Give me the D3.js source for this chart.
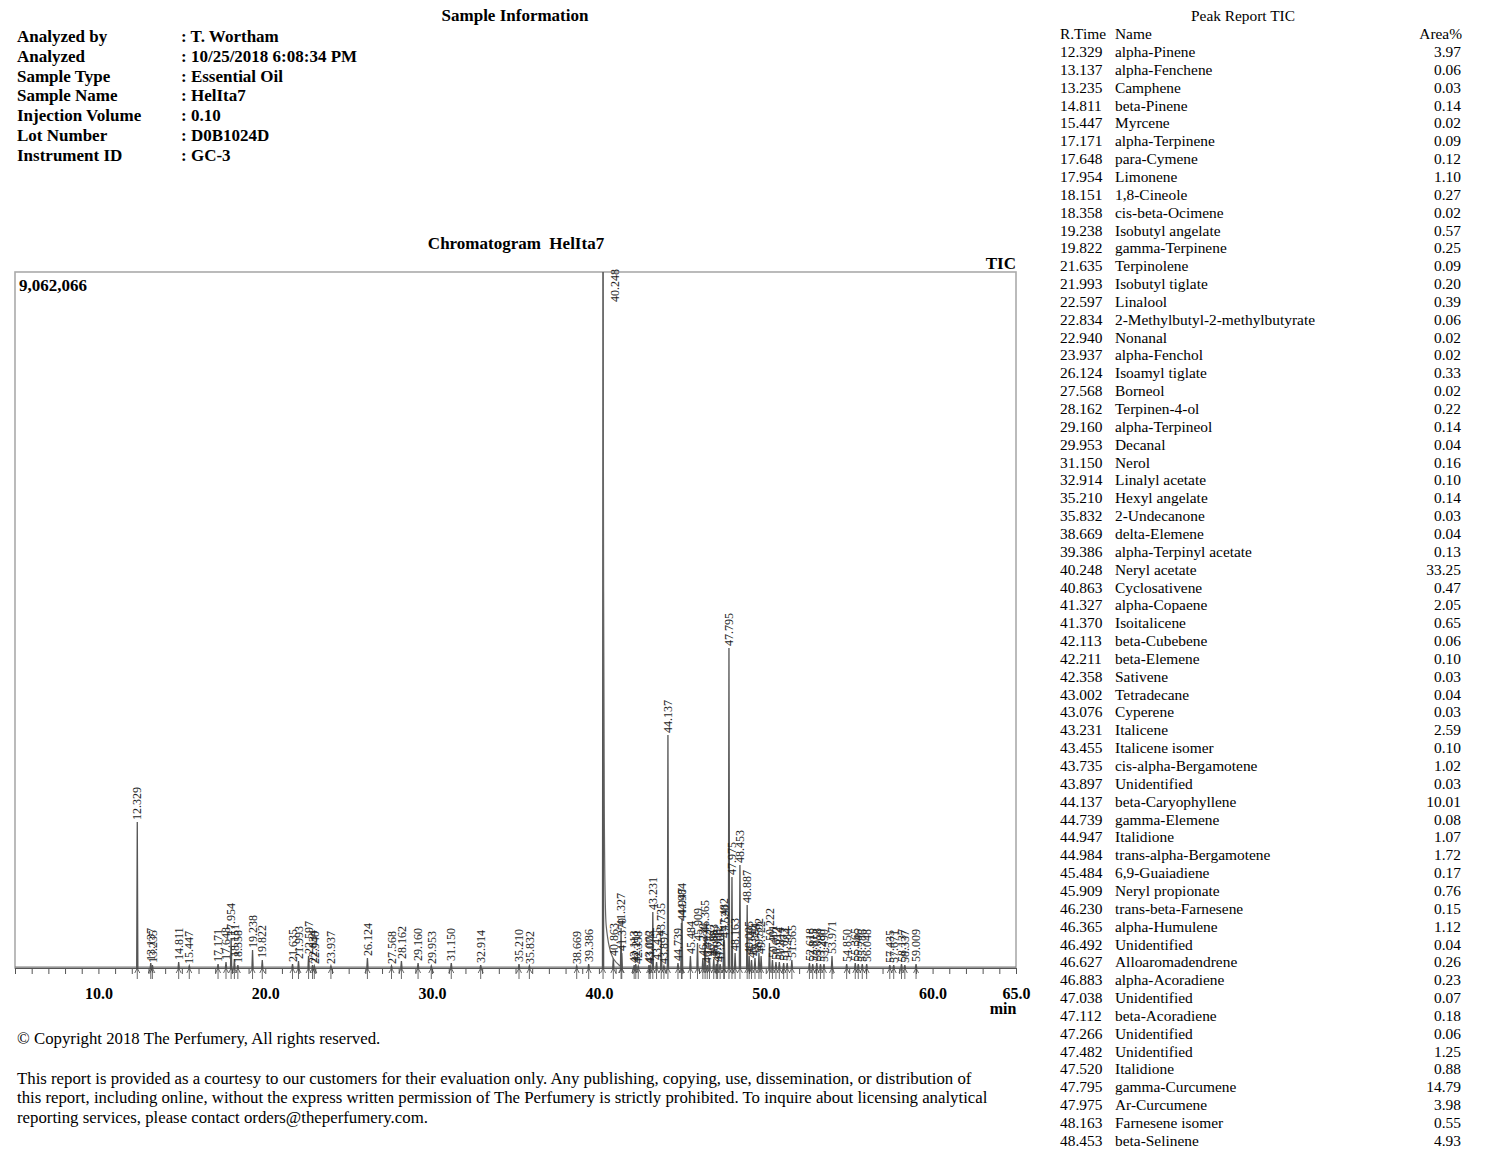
<!DOCTYPE html>
<html><head><meta charset="utf-8">
<script src="https://cdn.jsdelivr.net/npm/d3@7"></script>
<style>
body{margin:0;background:#fff;}
svg{display:block;font-family:"Liberation Serif","Times New Roman",serif;}
</style></head>
<body>
<svg id="c" width="1500" height="1163"></svg>
<script>
// ---------- data ----------
const infoLabels = ["Analyzed by","Analyzed","Sample Type","Sample Name","Injection Volume","Lot Number","Instrument ID"];
const infoValues = [": T. Wortham",": 10/25/2018 6:08:34 PM",": Essential Oil",": HelIta7",": 0.10",": D0B1024D",": GC-3"];

const tableTimes = ["12.329","13.137","13.235","14.811","15.447","17.171","17.648","17.954","18.151","18.358","19.238","19.822","21.635","21.993","22.597","22.834","22.940","23.937","26.124","27.568","28.162","29.160","29.953","31.150","32.914","35.210","35.832","38.669","39.386","40.248","40.863","41.327","41.370","42.113","42.211","42.358","43.002","43.076","43.231","43.455","43.735","43.897","44.137","44.739","44.947","44.984","45.484","45.909","46.230","46.365","46.492","46.627","46.883","47.038","47.112","47.266","47.482","47.520","47.795","47.975","48.163","48.453"];
const tableNames = ["alpha-Pinene","alpha-Fenchene","Camphene","beta-Pinene","Myrcene","alpha-Terpinene","para-Cymene","Limonene","1,8-Cineole","cis-beta-Ocimene","Isobutyl angelate","gamma-Terpinene","Terpinolene","Isobutyl tiglate","Linalool","2-Methylbutyl-2-methylbutyrate","Nonanal","alpha-Fenchol","Isoamyl tiglate","Borneol","Terpinen-4-ol","alpha-Terpineol","Decanal","Nerol","Linalyl acetate","Hexyl angelate","2-Undecanone","delta-Elemene","alpha-Terpinyl acetate","Neryl acetate","Cyclosativene","alpha-Copaene","Isoitalicene","beta-Cubebene","beta-Elemene","Sativene","Tetradecane","Cyperene","Italicene","Italicene isomer","cis-alpha-Bergamotene","Unidentified","beta-Caryophyllene","gamma-Elemene","Italidione","trans-alpha-Bergamotene","6,9-Guaiadiene","Neryl propionate","trans-beta-Farnesene","alpha-Humulene","Unidentified","Alloaromadendrene","alpha-Acoradiene","Unidentified","beta-Acoradiene","Unidentified","Unidentified","Italidione","gamma-Curcumene","Ar-Curcumene","Farnesene isomer","beta-Selinene"];
const tableArea = ["3.97","0.06","0.03","0.14","0.02","0.09","0.12","1.10","0.27","0.02","0.57","0.25","0.09","0.20","0.39","0.06","0.02","0.02","0.33","0.02","0.22","0.14","0.04","0.16","0.10","0.14","0.03","0.04","0.13","33.25","0.47","2.05","0.65","0.06","0.10","0.03","0.04","0.03","2.59","0.10","1.02","0.03","10.01","0.08","1.07","1.72","0.17","0.76","0.15","1.12","0.04","0.26","0.23","0.07","0.18","0.06","1.25","0.88","14.79","3.98","0.55","4.93"];

// chromatogram peaks: retention time (min) and height (counts)
const peakTimes = [12.329,13.137,13.235,14.811,15.447,17.171,17.648,17.954,18.151,18.358,19.238,19.822,21.635,21.993,22.597,22.834,22.940,23.937,26.124,27.568,28.162,29.160,29.953,31.150,32.914,35.210,35.832,38.669,39.386,40.248,40.863,41.327,41.370,42.113,42.211,42.358,43.002,43.076,43.231,43.455,43.735,43.897,44.137,44.739,44.947,44.984,45.484,45.909,46.230,46.365,46.492,46.627,46.883,47.038,47.112,47.266,47.482,47.520,47.795,47.975,48.163,48.453,48.887,49.005,49.148,49.354,49.592,49.722,50.222,50.401,50.612,50.814,51.073,51.284,51.565,52.618,52.815,53.058,53.280,53.490,53.971,54.850,55.365,55.546,55.786,56.048,57.435,57.671,58.137,58.337,59.009];
const peakHeights = [1901000,65000,39000,78000,26000,52000,78000,391000,117000,39000,234000,104000,52000,91000,156000,39000,26000,26000,130000,26000,91000,65000,26000,65000,39000,52000,26000,26000,52000,9062066,130000,521000,195000,39000,52000,26000,39000,26000,729000,78000,391000,26000,3034000,65000,586000,651000,156000,326000,130000,430000,39000,130000,117000,52000,104000,52000,456000,365000,4166000,1185000,195000,1341000,820000,156000,104000,130000,195000,156000,326000,104000,78000,78000,65000,65000,104000,65000,52000,65000,52000,52000,156000,52000,65000,52000,52000,52000,39000,39000,52000,39000,52000];
// tailing of the main peak (40.248)
const tailTimes = [40.248,40.31,40.43,40.61,40.85,41.27];
const tailHeights = [9062066,911000,521000,260000,104000,26000];

const axisLabels = [10,20,30,40,50,60,65];
const yMax = 9062066;

// ---------- layout ----------
const svg = d3.select("#c");
const L = 15, R = 1016, T = 272, B = 968;
const x = d3.scaleLinear().domain([5,65]).range([L,R]);
const y = d3.scaleLinear().domain([0,yMax]).range([B,T]);

// header
svg.append("text").attr("x",515).attr("y",21).attr("text-anchor","middle")
  .attr("font-weight","bold").attr("font-size",17).text("Sample Information");
infoLabels.forEach((t,i)=>{
  svg.append("text").attr("x",17).attr("y",42+i*19.8).attr("font-weight","bold").attr("font-size",17).text(t);
  svg.append("text").attr("x",181).attr("y",42+i*19.8).attr("font-weight","bold").attr("font-size",17).text(infoValues[i]);
});

// chart titles
svg.append("text").attr("x",516).attr("y",249).attr("text-anchor","middle")
  .attr("font-weight","bold").attr("font-size",17).attr("xml:space","preserve").text("Chromatogram  HelIta7");
svg.append("text").attr("x",1016).attr("y",269).attr("text-anchor","end")
  .attr("font-weight","bold").attr("font-size",17).text("TIC");

// frame
svg.append("rect").attr("x",L).attr("y",T).attr("width",R-L).attr("height",B-T)
  .attr("fill","none").attr("stroke","#aaa").attr("stroke-width",1.6);
svg.append("text").attr("x",19).attr("y",291).attr("font-weight","bold").attr("font-size",17).text(d3.format(",")(yMax));

// axis minor ticks
const gAx = svg.append("g").attr("transform",`translate(0,${B})`);
gAx.call(d3.axisBottom(x).tickValues(d3.range(5,66,1)).tickSize(6).tickFormat(""));
gAx.select(".domain").attr("stroke","#555");
gAx.selectAll(".tick line").attr("stroke","#555");
const gLab = svg.append("g").attr("transform",`translate(0,${B})`);
gLab.call(d3.axisBottom(x).tickValues(axisLabels).tickSize(0).tickPadding(20).tickFormat(d3.format(".1f")));
gLab.select(".domain").remove();
gLab.selectAll("text").attr("font-family","Liberation Serif").attr("font-weight","bold").attr("font-size",16).attr("fill","#000");
svg.append("text").attr("x",1003).attr("y",1014).attr("text-anchor","middle")
  .attr("font-weight","bold").attr("font-size",16).text("min");

// trace
svg.append("clipPath").attr("id","pc").append("rect").attr("x",L).attr("y",T).attr("width",R-L).attr("height",B-T+2);
const gTr = svg.append("g").attr("clip-path","url(#pc)");
gTr.append("line").attr("x1",x(5)).attr("x2",x(65)).attr("y1",y(0)-1).attr("y2",y(0)-1).attr("stroke","#777").attr("stroke-width",1);
const line = d3.line().x(d=>x(d[0])).y(d=>y(d[1]));
peakTimes.forEach((t,i)=>{
  const h = peakHeights[i], hw = 0.035;
  gTr.append("path").attr("d",line([[t-hw,0],[t,h],[t+hw,0]]))
    .attr("fill","none").attr("stroke","#555").attr("stroke-width",1.3);
});
gTr.append("path").attr("d",d3.line().x(d=>x(d[0])).y(d=>y(d[1])).curve(d3.curveBasis)(tailTimes.map((t,i)=>[t,tailHeights[i]])))
  .attr("fill","none").attr("stroke","#666").attr("stroke-width",1.2);

// baseline arrows
const gAr = svg.append("g").attr("stroke","#444").attr("stroke-width",0.8).attr("fill","none");
peakTimes.forEach(t=>{
  const px = x(t);
  gAr.append("path").attr("d",`M${px},${B+11}L${px},${B}M${px-2.5},${B+5}L${px},${B}L${px+2.5},${B+5}`);
});

// peak labels
const gPl = svg.append("g").attr("font-size",12).attr("fill","#222");
peakTimes.forEach((t,i)=>{
  const h = peakHeights[i];
  let px = x(t), py = y(h) - 2;
  if (h >= yMax) { px = x(t) + 12; py = 302; }
  gPl.append("text").attr("transform",`translate(${px},${py}) rotate(-90)`)
    .attr("dy","0.35em").text(d3.format(".3f")(t));
});

// footer
svg.append("text").attr("x",17).attr("y",1044).attr("font-size",16.8).text("\u00A9 Copyright 2018 The Perfumery, All rights reserved.");
const foot = ["This report is provided as a courtesy to our customers for their evaluation only. Any publishing, copying, use, dissemination, or distribution of",
"this report, including online, without the express written permission of The Perfumery is strictly prohibited. To inquire about licensing analytical",
"reporting services, please contact orders@theperfumery.com."];
foot.forEach((t,i)=>svg.append("text").attr("x",17).attr("y",1084+i*19.3).attr("font-size",16.8).text(t));

// peak report table
svg.append("text").attr("x",1243).attr("y",21).attr("text-anchor","middle").attr("font-size",15.4).text("Peak Report TIC");
svg.append("text").attr("x",1060).attr("y",39).attr("font-size",15.4).text("R.Time");
svg.append("text").attr("x",1115).attr("y",39).attr("font-size",15.4).text("Name");
svg.append("text").attr("x",1462).attr("y",39).attr("text-anchor","end").attr("font-size",15.4).text("Area%");
tableTimes.forEach((t,i)=>{
  const yy = 57 + i*17.85;
  svg.append("text").attr("x",1060).attr("y",yy).attr("font-size",15.4).text(t);
  svg.append("text").attr("x",1115).attr("y",yy).attr("font-size",15.4).text(tableNames[i]);
  svg.append("text").attr("x",1461).attr("y",yy).attr("text-anchor","end").attr("font-size",15.4).text(tableArea[i]);
});
</script>
</body></html>
